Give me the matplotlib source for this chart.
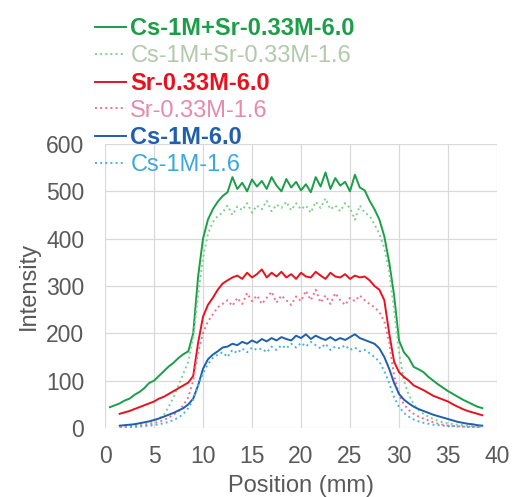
import numpy as np
import matplotlib.pyplot as plt

plt.rcParams['font.family'] = ['Liberation Sans', 'DejaVu Sans']

nan = np.nan
# position grid (mm), 0.5 mm steps
pos = np.arange(0.5, 38.51, 0.5)

cs_sr_60 = [44, 48, 52, 58, 62, 70, 76, 84, 95, 100, 110, 120, 130, 138, 148, 156, 162, 200, 320, 400,
            440, 462, 478, 490, 498, 530, 505, 518, 500, 525, 510, 522, 505, 530, 512, 500, 526, 508, 520, 502,
            515, 498, 530, 510, 540, 505, 528, 512, 520, 500, 535, 508, 502, 480, 462, 440, 405, 350, 280, 185,
            160, 148, 129, 124, 118, 108, 100, 92, 85, 78, 72, 66, 60, 55, 50, 45, 42]
cs_sr_16 = [nan, nan, 3, 4, 5, 6, 8, 10, 12, 15, 20, 28, 45, 65, 90, 115, 140, 190, 280, 360,
            410, 435, 448, 455, 470, 450, 468, 460, 475, 455, 470, 462, 480, 458, 472, 465, 478, 460, 475, 462,
            470, 455, 478, 465, 485, 462, 470, 458, 475, 465, 440, 470, 455, 448, 430, 410, 380, 330, 250, 160,
            100, 70, 50, 38, 30, 24, 19, 15, 12, 10, 8, 7, 6, 5, 4, 3, 3]
sr_60 = [nan, nan, 30, 33, 36, 40, 44, 48, 52, 56, 62, 66, 72, 78, 84, 90, 96, 110, 180, 235,
         260, 275, 292, 305, 312, 318, 322, 315, 328, 318, 325, 335, 318, 328, 320, 330, 318, 325, 315, 328,
         320, 318, 330, 322, 315, 328, 320, 318, 325, 315, 322, 318, 320, 312, 300, 292, 270, 200, 140, 118,
         108, 100, 90, 85, 80, 74, 68, 64, 60, 56, 50, 45, 40, 36, 33, 30, 27]
sr_16 = [nan, nan, 2, 3, 3, 4, 5, 6, 8, 10, 13, 17, 22, 28, 36, 48, 65, 100, 160, 200,
         225, 240, 255, 262, 270, 258, 275, 262, 285, 268, 280, 262, 275, 288, 265, 280, 270, 260, 278, 268,
         290, 270, 292, 265, 280, 262, 285, 270, 260, 275, 268, 280, 270, 262, 255, 245, 225, 180, 110, 70,
         50, 38, 30, 24, 20, 16, 12, 9, 7, 5, 4, 3, 3, 2, 2, 2, 2]
cs_60 = [nan, nan, 5, 6, 7, 8, 10, 12, 14, 17, 20, 24, 28, 32, 37, 42, 50, 62, 90, 125,
         145, 155, 162, 170, 172, 178, 175, 182, 178, 185, 180, 188, 183, 190, 185, 192, 188, 185, 195, 190,
         198, 188, 195, 190, 186, 192, 185, 190, 186, 192, 198, 190, 186, 182, 178, 168, 150, 125, 95, 72,
         60, 52, 45, 40, 36, 32, 28, 25, 22, 19, 16, 13, 11, 9, 8, 6, 5]
cs_16 = [nan, nan, 1, 1, 2, 2, 3, 4, 5, 6, 8, 10, 13, 17, 22, 30, 42, 60, 90, 115,
         135, 148, 155, 160, 150, 165, 158, 168, 160, 170, 165, 168, 160, 172, 165, 175, 168, 178, 170, 180,
         172, 182, 175, 168, 178, 165, 172, 168, 175, 165, 170, 162, 165, 158, 150, 140, 120, 95, 65, 45,
         32, 24, 18, 14, 11, 9, 7, 6, 5, 4, 4, 4, 3, 3, 3, 3, 3]

series = [
    ("Cs-1M+Sr-0.33M-6.0", cs_sr_60, "#1a9e48", "-", "#1a9e48", "bold"),
    ("Cs-1M+Sr-0.33M-1.6", cs_sr_16, "#7fcf92", ":", "#b2c9ab", "normal"),
    ("Sr-0.33M-6.0", sr_60, "#e8121e", "-", "#e8121e", "bold"),
    ("Sr-0.33M-1.6", sr_16, "#f0708e", ":", "#e88aaa", "normal"),
    ("Cs-1M-6.0", cs_60, "#1f5fae", "-", "#1f5fae", "bold"),
    ("Cs-1M-1.6", cs_16, "#4cb0e4", ":", "#3aa8dc", "normal"),
]

fig = plt.figure(figsize=(5.16, 4.97), dpi=100)
ax = fig.add_axes([0.2035, 0.1388, 0.7597, 0.5715])

for name, vals, col, ls, tcol, w in series:
    ax.plot(pos, vals, color=col, linestyle=ls, linewidth=1.4, label=name)

ax.set_xlim(0, 40)
ax.set_ylim(0, 600)
ax.set_xticks(range(0, 41, 5))
ax.set_yticks(range(0, 601, 100))
ax.grid(True, color="#d9d9d9", linewidth=0.9)
ax.set_axisbelow(True)
for s in ax.spines.values():
    s.set_visible(False)
ax.tick_params(length=0, labelsize=16.5, colors="#595959")
ax.tick_params(axis="y", pad=15)
ax.tick_params(axis="x", pad=12)
ax.set_xlabel("Position (mm)", fontsize=17, color="#595959")
ax.set_ylabel("Intensity", fontsize=17, color="#595959")
ax.xaxis.set_label_coords(0.5, -0.165)
ax.yaxis.set_label_coords(-0.165, 0.5)

leg = ax.legend(loc="upper left", bbox_to_anchor=(0.184, 0.965), bbox_transform=fig.transFigure,
                frameon=False, fontsize=17, handlelength=1.3, handletextpad=0.2,
                labelspacing=0.2, borderpad=0, borderaxespad=0)
for txt, (name, vals, col, ls, tcol, w) in zip(leg.get_texts(), series):
    txt.set_color(tcol)
    txt.set_fontweight(w)

fig.savefig("out.png", dpi=100)
